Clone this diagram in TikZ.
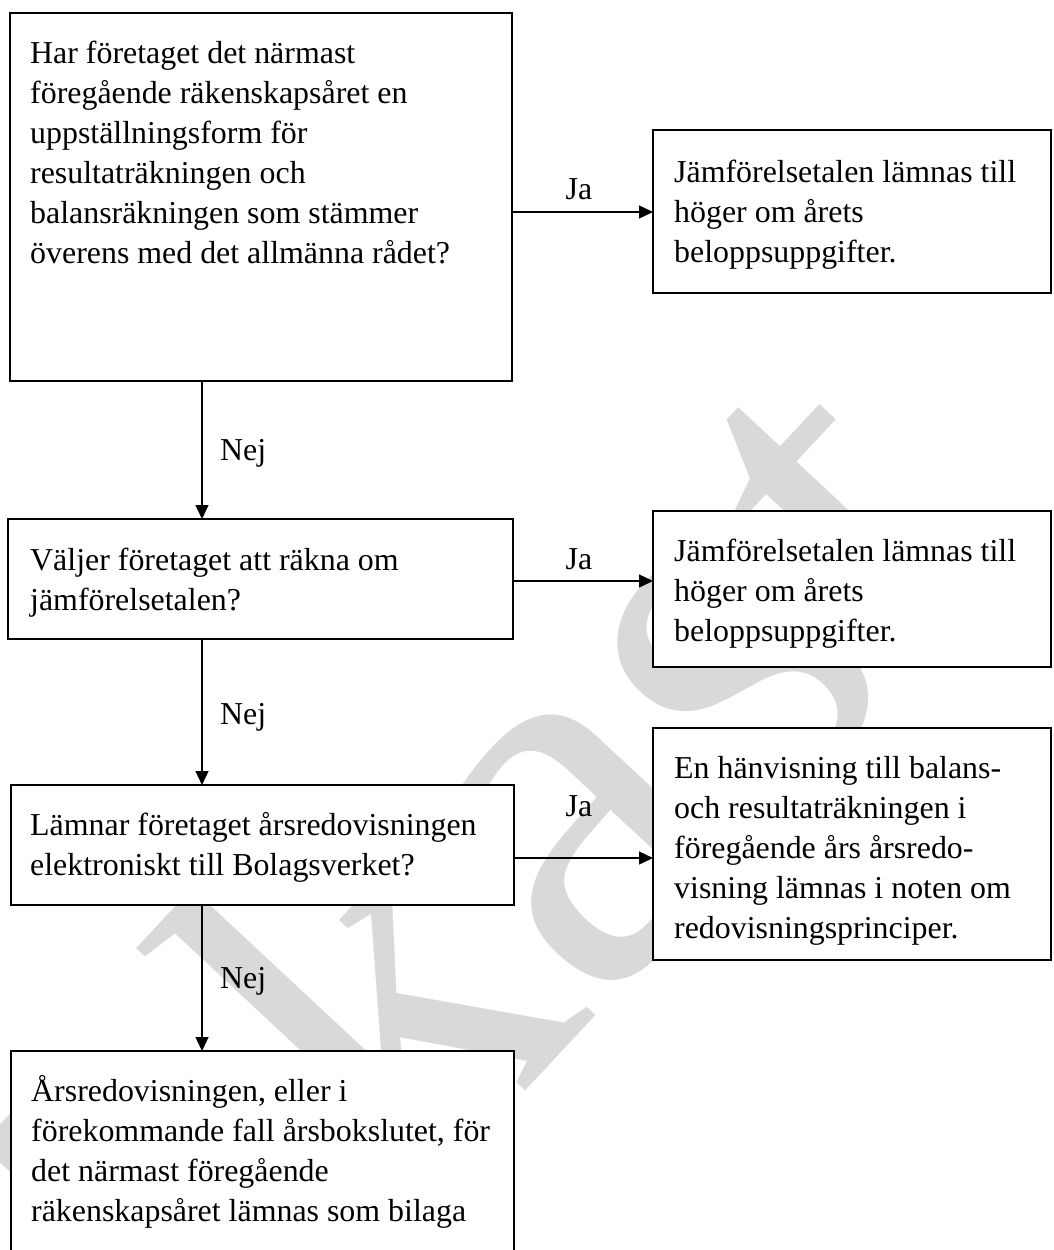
\documentclass[tikz,border=0pt]{standalone}
\usepackage{fontspec}
\setmainfont{Liberation Serif}
\usetikzlibrary{arrows.meta}
\definecolor{wm}{RGB}{217,217,217}
\begin{document}
\begin{tikzpicture}[x=1pt,y=1pt,
  box/.style={draw=black, line width=1.6pt, fill=white, rectangle, inner sep=0pt, outer sep=0pt, anchor=north west},
  txt/.style={anchor=base west, inner sep=0pt, font=\fontsize{31.9}{40}\selectfont},
  lbl/.style={anchor=base, inner sep=0pt, font=\fontsize{31.9}{40}\selectfont},
  arr/.style={line width=1.3pt, -{Triangle[length=14pt,width=13pt]}}]
\useasboundingbox (0,0) rectangle (1053,-1250);
\clip (0,0) rectangle (1053,-1250);
% watermark
\node[rotate=47, text=wm, inner sep=0pt, font=\fontsize{550}{550}\selectfont] (wmk) at (385,-965) {Utkast};
% boxes
\node[box, minimum width=502pt, minimum height=368pt] (b1) at (10,-13) {};
\node[box, minimum width=505pt, minimum height=120pt] (b2) at (8,-519) {};
\node[box, minimum width=503pt, minimum height=120pt] (b3) at (11,-785) {};
\node[box, minimum width=503pt, minimum height=230pt] (b4) at (11,-1051) {};
\node[box, minimum width=398pt, minimum height=163pt] (r1) at (653,-130) {};
\node[box, minimum width=398pt, minimum height=156pt] (r2) at (653,-511) {};
\node[box, minimum width=398pt, minimum height=232pt] (r3) at (653,-728) {};
% texts
\node[txt] (t1) at (30,-63) {\begin{tabular}[t]{@{}l@{}}Har företaget det närmast\\ föregående räkenskapsåret en\\ uppställningsform för\\ resultaträkningen och\\ balansräkningen som stämmer\\ överens med det allmänna rådet?\end{tabular}};
\node[txt] (t2) at (30,-570) {\begin{tabular}[t]{@{}l@{}}Väljer företaget att räkna om\\ jämförelsetalen?\end{tabular}};
\node[txt] (t3) at (30,-835) {\begin{tabular}[t]{@{}l@{}}Lämnar företaget årsredovisningen\\ elektroniskt till Bolagsverket?\end{tabular}};
\node[txt] (t4) at (31,-1101) {\begin{tabular}[t]{@{}l@{}}Årsredovisningen, eller i\\ förekommande fall årsbokslutet, för\\ det närmast föregående\\ räkenskapsåret lämnas som bilaga\end{tabular}};
\node[txt] (u1) at (674,-182) {\begin{tabular}[t]{@{}l@{}}Jämförelsetalen lämnas till\\ höger om årets\\ beloppsuppgifter.\end{tabular}};
\node[txt] (u2) at (674,-561) {\begin{tabular}[t]{@{}l@{}}Jämförelsetalen lämnas till\\ höger om årets\\ beloppsuppgifter.\end{tabular}};
\node[txt] (u3) at (674,-778) {\begin{tabular}[t]{@{}l@{}}En hänvisning till balans-\\ och resultaträkningen i\\ föregående års årsredo-\\ visning lämnas i noten om\\ redovisningsprinciper.\end{tabular}};
% connectors
\coordinate (vx) at (202,0);
\coordinate (h1) at (0,-212);
\coordinate (h2) at (0,-581);
\coordinate (h3) at (0,-858);
\draw[arr] (b1.south -| vx) -- (b2.north -| vx);
\draw[arr] (b2.south -| vx) -- (b3.north -| vx);
\draw[arr] (b3.south -| vx) -- (b4.north -| vx);
\draw[arr] (b1.east |- h1) -- (r1.west |- h1);
\draw[arr] (b2.east |- h2) -- (r2.west |- h2);
\draw[arr] (b3.east |- h3) -- (r3.west |- h3);
% labels
\node[lbl] (ja1) at (579,-199) {Ja};
\node[lbl] (ja2) at (579,-569) {Ja};
\node[lbl] (ja3) at (579,-816) {Ja};
\node[txt] (nej1) at (220,-460) {Nej};
\node[txt] (nej2) at (220,-724) {Nej};
\node[txt] (nej3) at (220,-988) {Nej};
\end{tikzpicture}
\end{document}
